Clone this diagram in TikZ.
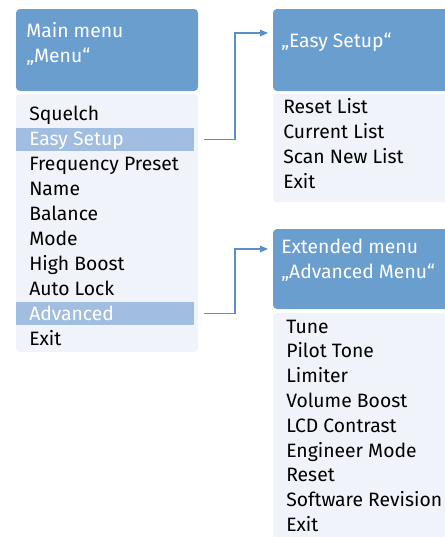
\documentclass[tikz,border=0pt]{standalone}
\usepackage{fontspec}
\setmainfont{Fira Sans}
\usetikzlibrary{arrows.meta}

\definecolor{headblue}{HTML}{6A9ECF}
\definecolor{barblue}{HTML}{A1BEE0}
\definecolor{listbg}{HTML}{F0F3FA}
\definecolor{linkblue}{HTML}{5B8FC9}

\tikzset{
    menuhead/.style={fill=headblue, rounded corners=3pt},
    menulist/.style={fill=listbg, rounded corners=3pt},
    selbar/.style={fill=barblue, draw=none, anchor=north west, inner sep=0pt,
        minimum width=178*0.75pt, minimum height=23*0.75pt},
    entry/.style={anchor=base west, inner sep=0pt, font=\fontsize{14.5}{17}\selectfont},
    headtext/.style={entry, text=white},
    seltext/.style={entry, text=white},
    link/.style={draw=linkblue, line width=0.8pt, -{Triangle[length=6pt,width=5pt]}}
}

\begin{document}
\begin{tikzpicture}[x=0.75pt,y=-0.75pt]
    \useasboundingbox (0,0) rectangle (445,537);
    \clip (0,0) rectangle (445,537);

    % main menu
    \path[menuhead] (16,9) rectangle (198,91);
    \path[menulist] (16,94) rectangle (198,352);
    \node[selbar] (easybar) at (16,128) {};
    \node[selbar] (advbar) at (16,302) {};
    \node[headtext] (mainA) at (26,37) {Main menu};
    \node[headtext] (mainB) at (26,62) {„Menu“};
    \foreach \name/\txt/\sty [count=\i from 0] in {squelch/Squelch/entry,
        easy/Easy Setup/seltext, freq/Frequency Preset/entry, name/Name/entry,
        balance/Balance/entry, mode/Mode/entry, boost/High Boost/entry,
        lock/Auto Lock/entry, adv/Advanced/seltext, exit/Exit/entry}
        \node[\sty] (main-\name) at (29,120+25*\i) {\txt};

    % easy setup
    \path[menuhead] (273,9) rectangle (460,91);
    \path[menulist] (273,94) rectangle (460,202);
    \node[headtext] (easyA) at (281,47) {„Easy Setup“};
    \foreach \txt [count=\i from 0] in {Reset List, Current List, Scan New List, Exit}
        \node[entry] (easy-\i) at (283,113+25*\i) {\txt};

    % advanced menu
    \path[menuhead] (273,229) rectangle (460,309);
    \path[menulist] (273,313) rectangle (460,560);
    \node[headtext] (advA) at (281,253) {Extended menu};
    \node[headtext] (advB) at (281,278) {„Advanced Menu“};
    \foreach \txt [count=\i from 0] in {Tune, Pilot Tone, Limiter, Volume Boost,
        LCD Contrast, Engineer Mode, Reset, Software Revision, Exit}
        \node[entry] (adv-\i) at (286,333+24.8*\i) {\txt};

    % links
    \coordinate (easyin) at (268,33);
    \coordinate (advin) at (268,249);
    \draw[link] ([xshift=6.75pt]easybar.east) -| (235,33) -- (easyin);
    \draw[link] ([xshift=6.75pt]advbar.east) -| (235,249) -- (advin);
\end{tikzpicture}
\end{document}
